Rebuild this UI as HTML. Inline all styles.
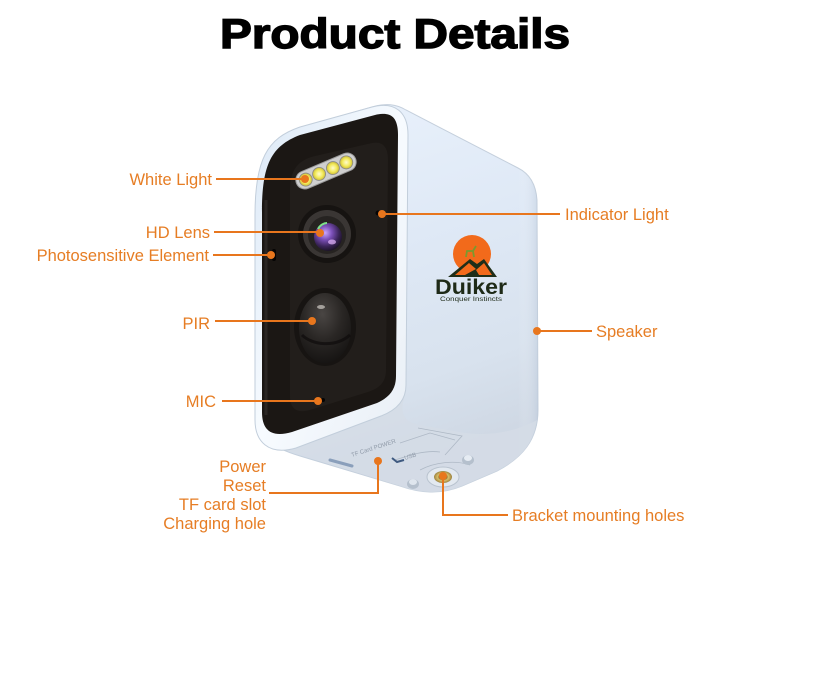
<!DOCTYPE html>
<html>
<head>
<meta charset="utf-8">
<style>
  html, body { margin: 0; padding: 0; background: #ffffff; }
  body { width: 820px; height: 678px; overflow: hidden; }
  svg { display: block; }
  .lbl { font-family: "Liberation Sans", Arial, sans-serif; font-size: 16.5px; fill: #e67d24; }
</style>
</head>
<body>
<svg width="820" height="678" viewBox="0 0 820 678" xmlns="http://www.w3.org/2000/svg">
  <defs>
    <linearGradient id="sideG" x1="0" y1="0" x2="0.25" y2="1">
      <stop offset="0" stop-color="#eaf2fc"/>
      <stop offset="0.45" stop-color="#dfe9f6"/>
      <stop offset="0.8" stop-color="#d8e2ee"/>
      <stop offset="1" stop-color="#cfd8e4"/>
    </linearGradient>
    <linearGradient id="rimG" x1="0" y1="0" x2="1" y2="0">
      <stop offset="0" stop-color="#ffffff" stop-opacity="0"/>
      <stop offset="0.85" stop-color="#ffffff" stop-opacity="0"/>
      <stop offset="1" stop-color="#b8c6d8" stop-opacity="0.45"/>
    </linearGradient>
    <linearGradient id="bezelG" x1="0" y1="0" x2="1" y2="1">
      <stop offset="0" stop-color="#dbe8f6"/>
      <stop offset="0.5" stop-color="#f7fbff"/>
      <stop offset="1" stop-color="#e8eef5"/>
    </linearGradient>
    <radialGradient id="lensG" cx="0.4" cy="0.35" r="0.7">
      <stop offset="0" stop-color="#c9a6ff"/>
      <stop offset="0.35" stop-color="#7b4fb8"/>
      <stop offset="0.7" stop-color="#3a2458"/>
      <stop offset="1" stop-color="#15101c"/>
    </radialGradient>
    <radialGradient id="pirG" cx="0.45" cy="0.3" r="0.75">
      <stop offset="0" stop-color="#4a4644"/>
      <stop offset="0.5" stop-color="#2a2725"/>
      <stop offset="1" stop-color="#141211"/>
    </radialGradient>
    <radialGradient id="ledG" cx="0.5" cy="0.5" r="0.5">
      <stop offset="0" stop-color="#fffbd0"/>
      <stop offset="0.6" stop-color="#f3ea5a"/>
      <stop offset="1" stop-color="#c9b93a"/>
    </radialGradient>
    <radialGradient id="goldG" cx="0.5" cy="0.5" r="0.5">
      <stop offset="0" stop-color="#3a2d10"/>
      <stop offset="0.35" stop-color="#6b5522"/>
      <stop offset="0.6" stop-color="#d9bf6a"/>
      <stop offset="1" stop-color="#9c8340"/>
    </radialGradient>
  </defs>

  <!-- Title -->
  <text x="220" y="48" textLength="350" lengthAdjust="spacingAndGlyphs"
        style="font-family:'Liberation Sans',Arial,sans-serif;font-weight:bold;font-size:42px;fill:#000;stroke:#000;stroke-width:1.4px;">Product Details</text>

  <!-- Camera body silhouette (side + bottom) -->
  <path d="M 257,215 C 257,160 268,140 300,128 L 372,107 C 386,103 396,104 406,110 L 518,168 C 530,174 536,185 537,200 L 538,410 C 538,440 522,458 497,471 L 462,486 C 440,495 420,493 400,486 L 300,456 C 270,447 257,436 257,416 Z"
        fill="url(#sideG)" stroke="#c4cfdc" stroke-width="1"/>
  <path d="M 406,110 L 518,168 C 530,174 536,185 537,200 L 538,410 C 538,440 522,458 497,471 L 406,471 Z"
        fill="url(#rimG)"/>

  <!-- Bottom surface shading -->
  <path d="M 262,425 C 270,445 285,450 300,455 L 400,486 C 420,493 440,495 462,486 L 497,471 C 520,459 533,445 537,420 C 515,432 490,436 465,433 L 415,424 C 402,420 400,410 405,395 L 381,416 L 296,448 C 275,453 264,442 262,425 Z"
        fill="#d4dce6" opacity="0.8"/>

  <!-- Bottom details: panels, text -->
  <g stroke="#aab5c2" stroke-width="0.8" fill="none" opacity="0.9">
    <path d="M 418,428 L 462,436 L 445,455"/>
    <path d="M 400,443 L 430,433 L 455,440"/>
    <path d="M 395,460 C 410,455 425,450 440,452"/>
    <path d="M 420,470 C 435,462 455,460 470,465"/>
  </g>
  <text x="352" y="457" transform="rotate(-18 352 457)" style="font-family:'Liberation Sans',sans-serif;font-size:6px;fill:#8f9aa8;">TF Card  POWER</text>
  <text x="405" y="460" transform="rotate(-18 405 460)" style="font-family:'Liberation Sans',sans-serif;font-size:6px;fill:#8f9aa8;">USB</text>
  <path d="M 392,458 L 397,462 L 404,460" stroke="#3f5a80" stroke-width="2" fill="none"/>
  <path d="M 330,460 L 352,466" stroke="#8a9fbb" stroke-width="3" stroke-linecap="round"/>

  <!-- Feet -->
  <ellipse cx="413" cy="484" rx="6" ry="5" fill="#b5c0cd"/>
  <ellipse cx="413" cy="482" rx="4" ry="3" fill="#dfe6ee"/>
  <ellipse cx="468" cy="460" rx="6" ry="5" fill="#b5c0cd"/>
  <ellipse cx="468" cy="458" rx="4" ry="3" fill="#e6ecf3"/>

  <!-- Bracket hole -->
  <ellipse cx="443" cy="477" rx="16" ry="10" fill="#e3e9f0" stroke="#b9c3cf" stroke-width="1"/>
  <ellipse cx="443" cy="477" rx="9" ry="6" fill="url(#goldG)"/>

  <!-- Front bezel -->
  <path d="M 255,215 C 255,160 267,138 300,127 L 372,107 C 395,101 408,112 408,135 L 406,385 C 406,400 397,410 381,416 L 296,448 C 268,456 255,441 255,420 Z"
        fill="url(#bezelG)" stroke="#c2cedb" stroke-width="1"/>

  <!-- Black face -->
  <path d="M 262,212 C 262,165 271,146 300,135 L 375,115 C 392,111 398,118 398,135 L 396,376 C 396,389 390,397 377,403 L 292,432 C 271,438 262,430 262,412 Z"
        fill="#1b1714"/>
  <!-- inner panel -->
  <path d="M 290,190 C 290,170 298,160 315,156 L 372,143 C 384,141 388,148 388,160 L 386,370 C 386,382 380,388 368,392 L 310,410 C 296,414 290,408 290,396 Z"
        fill="#221e1b"/>
  <!-- left edge strip -->
  <path d="M 266,200 L 266,415" stroke="#2a2623" stroke-width="3"/>

  <!-- LED strip -->
  <g transform="translate(326,171) rotate(-23)">
    <rect x="-32" y="-9" width="64" height="18" rx="9" fill="#cfcfcf" stroke="#9a9a9a" stroke-width="1"/>
    <circle cx="-22" cy="0" r="6.5" fill="url(#ledG)" stroke="#888" stroke-width="0.8"/>
    <circle cx="-7.5" cy="0" r="6.5" fill="url(#ledG)" stroke="#888" stroke-width="0.8"/>
    <circle cx="7.5" cy="0" r="6.5" fill="url(#ledG)" stroke="#888" stroke-width="0.8"/>
    <circle cx="22" cy="0" r="6.5" fill="url(#ledG)" stroke="#888" stroke-width="0.8"/>
  </g>

  <!-- Lens -->
  <circle cx="327" cy="234" r="29" fill="#161311"/>
  <circle cx="327" cy="234" r="24" fill="#3a3634"/>
  <circle cx="327" cy="235" r="19" fill="#262321"/>
  <circle cx="328" cy="237" r="14" fill="url(#lensG)"/>
  <path d="M 318,229 C 320,225 324,223 327,223" stroke="#7de08a" stroke-width="2" fill="none"/>
  <ellipse cx="332" cy="242" rx="4" ry="2.5" fill="#e6b8ff" opacity="0.7"/>

  <!-- PIR -->
  <ellipse cx="325" cy="327" rx="31" ry="39" fill="#171412"/>
  <ellipse cx="325" cy="328" rx="26" ry="35" fill="url(#pirG)"/>
  <path d="M 302,335 C 312,345 335,348 350,335" stroke="#0e0c0b" stroke-width="3" fill="none" opacity="0.7"/>
  <ellipse cx="321" cy="307" rx="4" ry="2" fill="#cfcac4" opacity="0.7"/>

  <!-- small holes -->
  <circle cx="378" cy="213" r="2.5" fill="#050404"/>
  <rect x="272" y="249" width="4" height="12" rx="2" fill="#050404"/>
  <circle cx="323" cy="400" r="2" fill="#050404"/>

  <!-- Logo -->
  <circle cx="472" cy="254" r="19" fill="#f26a1b"/>
  <path d="M 448,277 L 470,259 L 477,264 L 484,259 L 497,277 Z" fill="#1f2e18"/>
  <path d="M 455,275 L 469,263 L 476,269 L 465,275 Z" fill="#f26a1b"/>
  <path d="M 476,270 L 484,263 L 492,275 L 479,275 Z" fill="#f26a1b"/>
  <path d="M 466,257 L 467,251 L 473,251 L 474,257 M 473,251 L 476,246" stroke="#7a9a2e" stroke-width="1.8" fill="none"/>
  <text x="471" y="294" text-anchor="middle" textLength="72" lengthAdjust="spacingAndGlyphs"
        style="font-family:'Liberation Sans',sans-serif;font-weight:bold;font-size:21px;fill:#1e2a17;">Duiker</text>
  <text x="471" y="301" text-anchor="middle" textLength="62" lengthAdjust="spacingAndGlyphs"
        style="font-family:'Liberation Sans',sans-serif;font-size:6px;fill:#1e2a17;">Conquer Instincts</text>

  <!-- Connector lines -->
  <g stroke="#e8761d" stroke-width="2" fill="none">
    <path d="M 216,179 H 305"/>
    <path d="M 214,232 H 320"/>
    <path d="M 213,255 H 271"/>
    <path d="M 215,321 H 312"/>
    <path d="M 222,401 H 318"/>
    <path d="M 382,214 H 560"/>
    <path d="M 537,331 H 592"/>
    <path d="M 269,493 H 378 V 461"/>
    <path d="M 443,476 V 515 H 508"/>
  </g>
  <g fill="#e8761d">
    <circle cx="305" cy="179" r="4"/>
    <circle cx="320" cy="233" r="4"/>
    <circle cx="271" cy="255" r="4"/>
    <circle cx="312" cy="321" r="4"/>
    <circle cx="318" cy="401" r="4"/>
    <circle cx="382" cy="214" r="4"/>
    <circle cx="537" cy="331" r="4"/>
    <circle cx="378" cy="461" r="4"/>
    <circle cx="443" cy="476" r="4"/>
  </g>

  <!-- Labels -->
  <text class="lbl" x="212" y="185" text-anchor="end">White Light</text>
  <text class="lbl" x="210" y="238" text-anchor="end">HD Lens</text>
  <text class="lbl" x="209" y="261" text-anchor="end">Photosensitive Element</text>
  <text class="lbl" x="210" y="329" text-anchor="end">PIR</text>
  <text class="lbl" x="216" y="407" text-anchor="end">MIC</text>
  <text class="lbl" x="565" y="220">Indicator Light</text>
  <text class="lbl" x="596" y="337">Speaker</text>
  <text class="lbl" x="266" y="472" text-anchor="end">Power</text>
  <text class="lbl" x="266" y="491" text-anchor="end">Reset</text>
  <text class="lbl" x="266" y="510" text-anchor="end">TF card slot</text>
  <text class="lbl" x="266" y="529" text-anchor="end">Charging hole</text>
  <text class="lbl" x="512" y="521">Bracket mounting holes</text>
</svg>
</body>
</html>
